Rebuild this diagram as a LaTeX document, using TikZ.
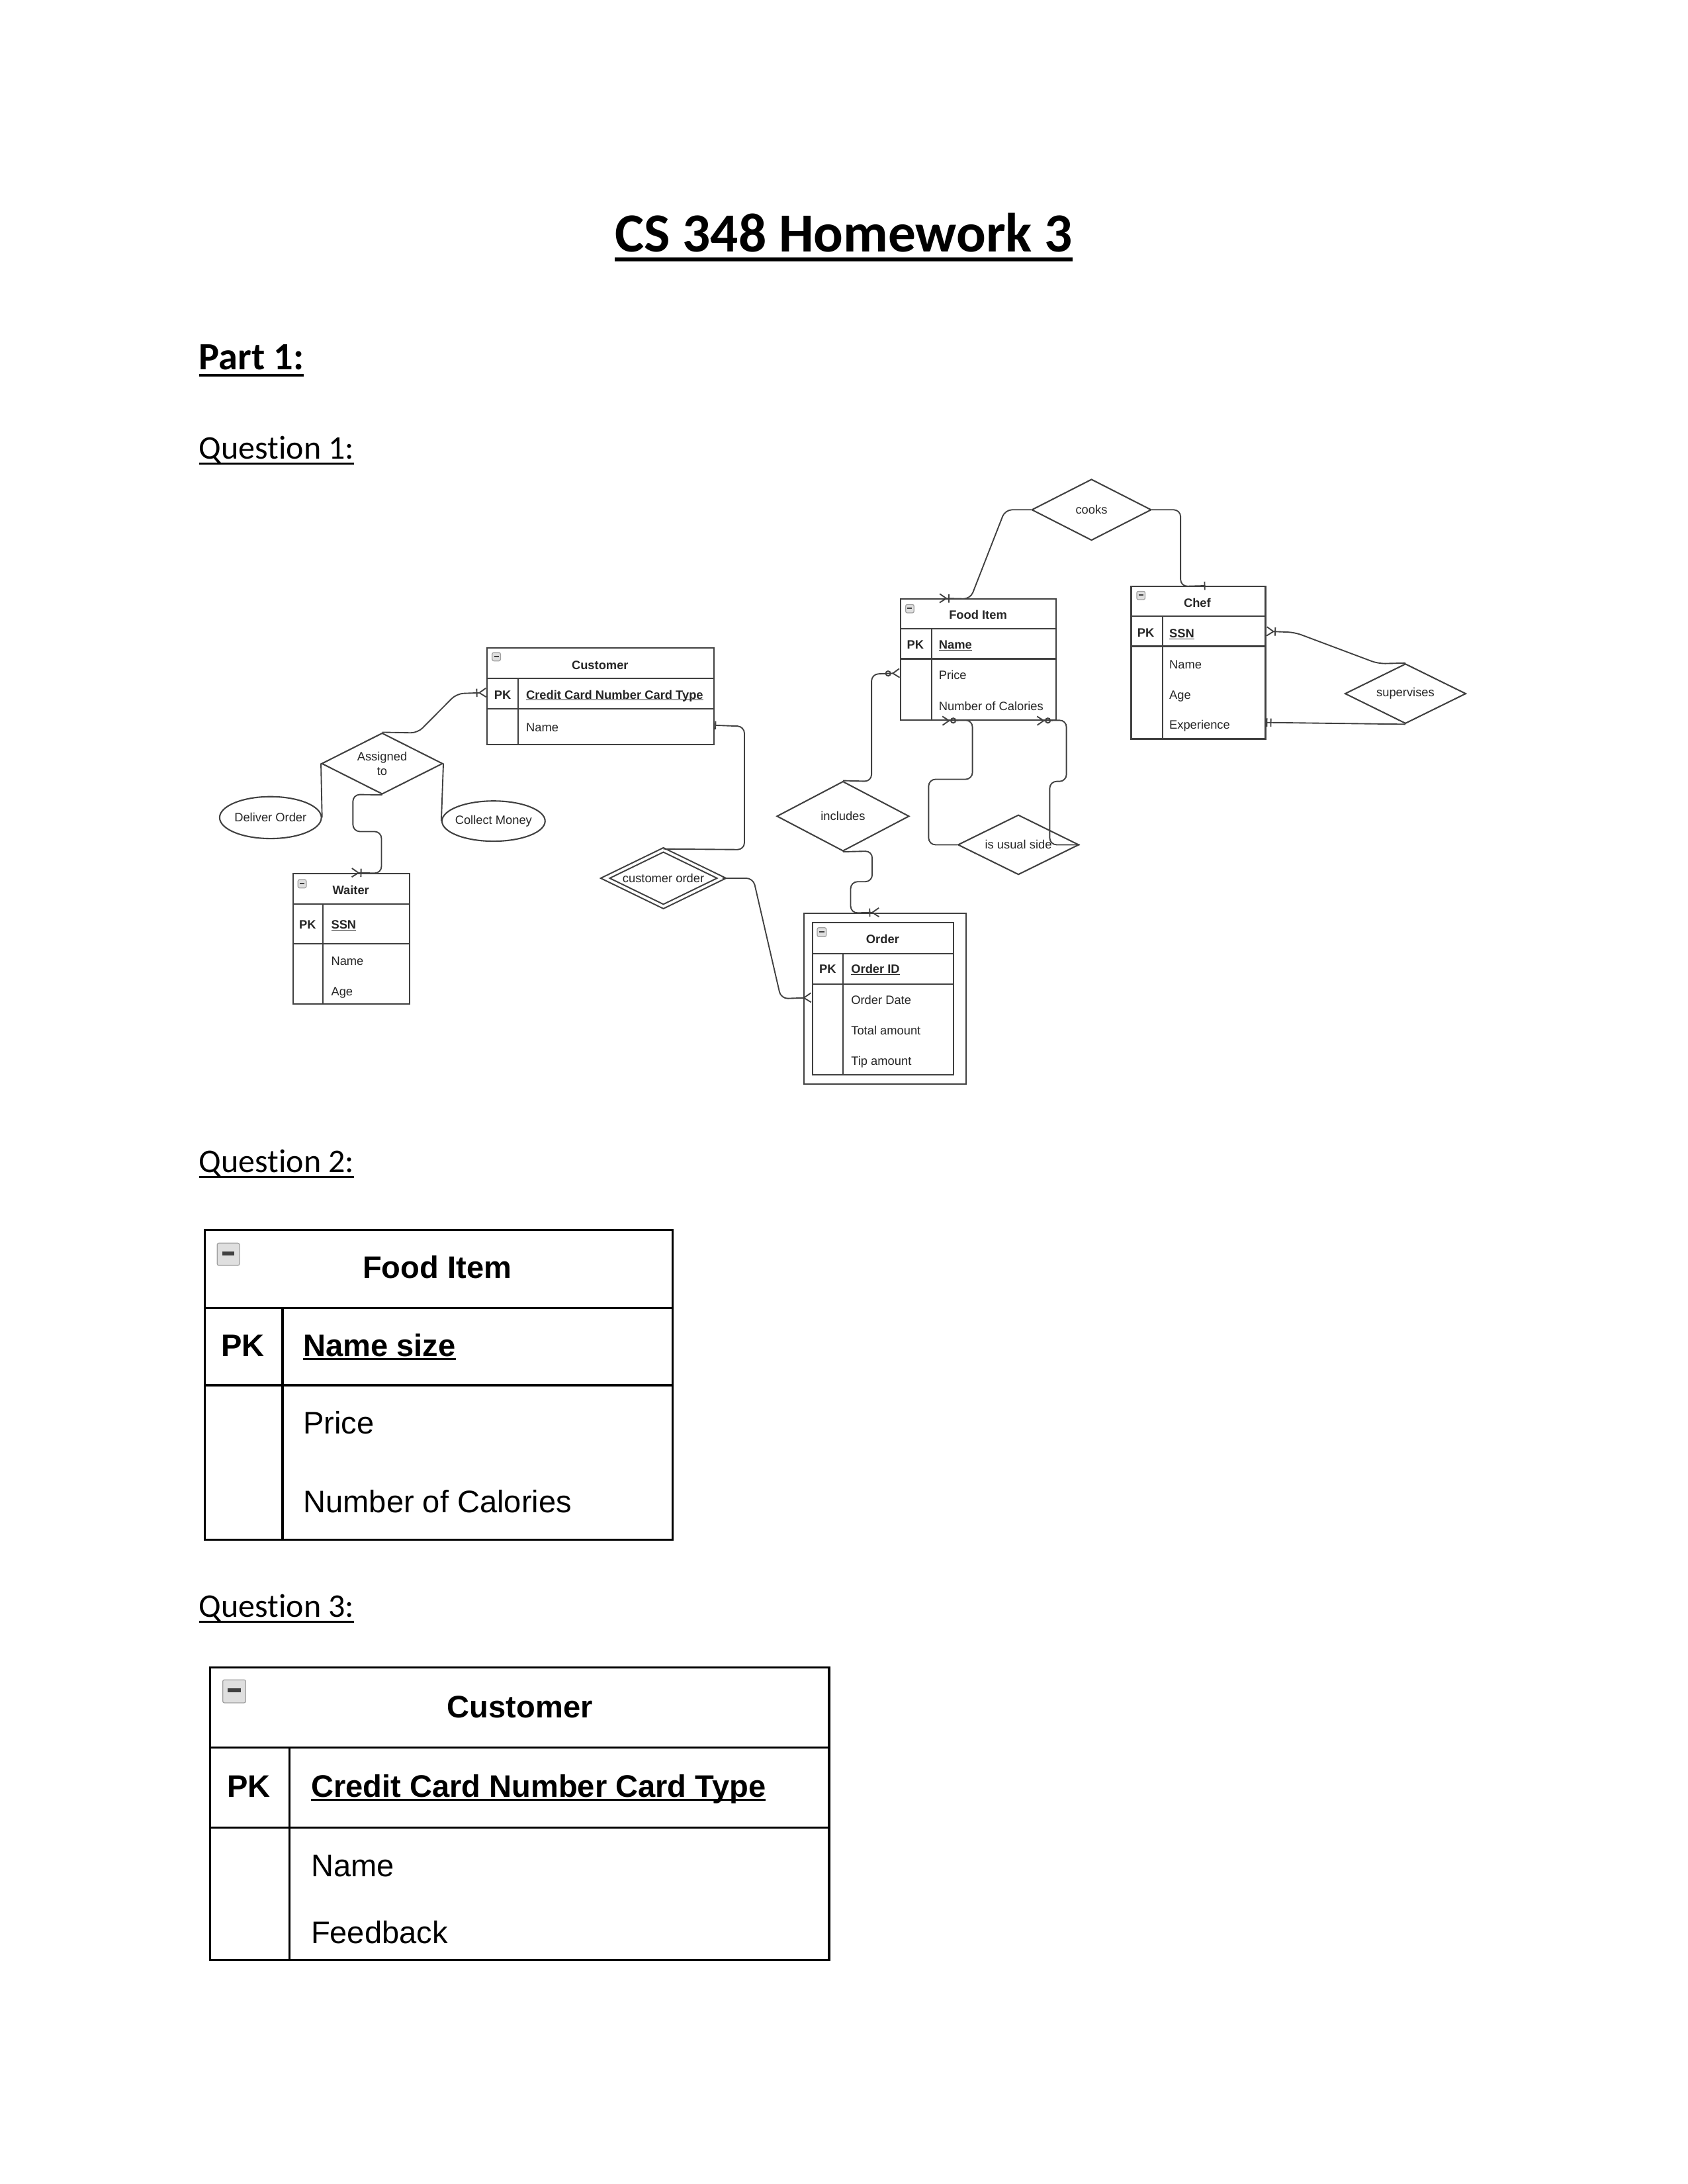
\documentclass[tikz,border=0pt]{standalone}
\usepackage{fontspec}
\setmainfont{Carlito}[Ligatures=CommonOff]
\newfontfamily\arialfont{Liberation Sans}
\usetikzlibrary{arrows.meta, positioning, fit, calc, shapes.geometric}

\newcommand{\headul}[1]{\setbox0\hbox{#1}\rlap{\rule[-0.18em]{\wd0}{0.07em}}\box0}
\newcommand{\pkul}[1]{\setbox0\hbox{#1}\rlap{\rule[-0.11em]{\wd0}{0.055em}}\box0}

\tikzset{
  tiny/.style={font=\arialfont\fontsize{4.4}{5.3}\selectfont, inner sep=0pt, text=black!85, yshift=0.4pt},
  tinyb/.style={font=\arialfont\bfseries\fontsize{4.4}{5.3}\selectfont, inner sep=0pt, text=black!85, yshift=0.4pt},
  big/.style={font=\arialfont\fontsize{11.3}{13.6}\selectfont, inner sep=0pt},
  bigb/.style={font=\arialfont\bfseries\fontsize{11.3}{13.6}\selectfont, inner sep=0pt},
  entity/.style={draw=black!75, line width=0.5pt, inner sep=0pt},
  erline/.style={draw=black!75, line width=0.5pt},
  qtable/.style={draw=black, line width=0.8pt, inner sep=0pt},
  qline/.style={draw=black, line width=0.8pt},
  relation/.style={diamond, aspect=2, draw=black!75, line width=0.5pt, inner sep=0pt, align=center,
    font=\arialfont\fontsize{4.4}{5.3}\selectfont, text=black!85},
  attribute/.style={ellipse, draw=black!75, line width=0.5pt, inner xsep=-2pt, inner ysep=0pt,
    font=\arialfont\fontsize{4.4}{5.3}\selectfont, text=black!85},
  link/.style={draw=black!75, line width=0.45pt, rounded corners=2.5pt},
  icon/.style={draw=gray!75, fill=gray!25, rounded corners=0.6pt, line width=0.3pt},
  onemany/.style={-{Bar[width=3pt,sep=0.3pt] Straight Barb[reversed,length=2.4pt,width=3.2pt]}},
  onemanystart/.style={{Straight Barb[reversed,length=2.4pt,width=3.2pt] Bar[width=3pt]}-},
  zeromany/.style={-{Circle[open,length=2.2pt,sep=0.2pt] Straight Barb[reversed,length=2.4pt,width=3.2pt]}},
  zeromanystart/.style={{Straight Barb[reversed,length=2.4pt,width=3.2pt] Circle[open,length=2.2pt]}-},
  many/.style={-{Straight Barb[reversed,length=2.6pt,width=3.4pt]}},
  one/.style={-{Bar[width=3pt]}},
  onestart/.style={{Bar[width=3pt]}-},
  mandone/.style={-{Bar[width=3pt,sep=1pt] Bar[width=3pt]}}
}

\begin{document}
\begin{tikzpicture}
\begin{scope}[x=0.50495pt,y=-0.5051pt]
  \fill[white] (0,0) rectangle (1212,1568);
  \useasboundingbox (0,0) rectangle (1212,1568);

  \node[anchor=base, inner sep=0pt, font=\bfseries\fontsize{20}{24}\selectfont] (title) at (606,180.6) {\headul{CS 348 Homework 3}};
  \node[anchor=base west, inner sep=0pt, font=\bfseries\fontsize{14}{17}\selectfont] (part) at (142.5,265.4) {\headul{Part 1:}};
  \node[anchor=base west, inner sep=0pt, font=\fontsize{12}{14.4}\selectfont] (qone) at (142.5,329.5) {\headul{Question 1:}};
  \node[anchor=base west, inner sep=0pt, font=\fontsize{12}{14.4}\selectfont] (qtwo) at (142.5,841.5) {\headul{Question 2:}};
  \node[anchor=base west, inner sep=0pt, font=\fontsize{12}{14.4}\selectfont] (qthree) at (142.5,1161) {\headul{Question 3:}};

  % entities
  \node[entity, fit={(350,465)(513,534.5)}] (customer) {};
  \draw[erline] (350,487) -- (513,487) (350,509) -- (513,509) (372,487) -- (372,534.5);
  \node[tinyb, anchor=mid] (custhead) at (431,476.5) {Customer};
  \node[tinyb, anchor=mid] (custpk) at (361,498) {PK};
  \node[tinyb, anchor=mid west] (custkey) at (377.5,498) {\pkul{Credit Card Number Card Type}};
  \node[tiny, anchor=mid west] (custname) at (377.5,521.5) {Name};

  \node[entity, fit={(210.5,627)(294,721)}] (waiter) {};
  \draw[erline] (210.5,649) -- (294,649) (210.5,677.5) -- (294,677.5) (232,649) -- (232,721);
  \node[tinyb, anchor=mid] (waithead) at (252,638) {Waiter};
  \node[tinyb, anchor=mid] (waitpk) at (221,663) {PK};
  \node[tinyb, anchor=mid west] (waitkey) at (237.5,663) {\pkul{SSN}};
  \node[tiny, anchor=mid west] (waitname) at (237.5,689) {Name};
  \node[tiny, anchor=mid west] (waitage) at (237.5,711) {Age};

  \node[entity, fit={(647,430)(758.5,517)}] (food) {};
  \draw[erline] (647,451.5) -- (758.5,451.5) (647,473) -- (758.5,473) (669,451.5) -- (669,517);
  \node[tinyb, anchor=mid] (foodhead) at (702.5,440.5) {Food Item};
  \node[tinyb, anchor=mid] (foodpk) at (657.5,462) {PK};
  \node[tinyb, anchor=mid west] (foodkey) at (674,462) {\pkul{Name}};
  \node[tiny, anchor=mid west] (foodprice) at (674,484) {Price};
  \node[tiny, anchor=mid west] (foodcal) at (674,506) {Number of Calories};

  \node[entity, fit={(812.5,421)(909,530.5)}] (chef) {};
  \draw[erline] (812.5,442.5) -- (909,442.5) (812.5,464) -- (909,464) (835,442.5) -- (835,530.5);
  \node[tinyb, anchor=mid] (chefhead) at (860,432) {Chef};
  \node[tinyb, anchor=mid] (chefpk) at (823,453.5) {PK};
  \node[tinyb, anchor=mid west] (chefkey) at (839.5,454) {\pkul{SSN}};
  \node[tiny, anchor=mid west] (chefname) at (839.5,476) {Name};
  \node[tiny, anchor=mid west] (chefage) at (839.5,498) {Age};
  \node[tiny, anchor=mid west] (chefexp) at (839.5,519.5) {Experience};

  \node[entity, fit={(577.5,655.5)(694,778.5)}] (order) {};
  \node[entity, fit={(583.5,662.5)(685,771.5)}] (orderin) {};
  \draw[erline] (583.5,684.5) -- (685,684.5) (583.5,706.5) -- (685,706.5) (605.5,684.5) -- (605.5,771.5);
  \node[tinyb, anchor=mid] (orderhead) at (634,673.5) {Order};
  \node[tinyb, anchor=mid] (orderpk) at (594.5,695) {PK};
  \node[tinyb, anchor=mid west] (orderkey) at (611,695) {\pkul{Order ID}};
  \node[tiny, anchor=mid west] (orderdate) at (611,717) {Order Date};
  \node[tiny, anchor=mid west] (ordertotal) at (611,739) {Total amount};
  \node[tiny, anchor=mid west] (ordertip) at (611,761) {Tip amount};

  % relations and attributes
  \node[relation, minimum width=43.4pt, minimum height=22.2pt] (cooks) at (784,366) {cooks};
  \node[relation, minimum width=48pt, minimum height=25.3pt] (includes) at (605.5,586) {includes};
  \node[relation, minimum width=43.9pt, minimum height=21.7pt] (usual) at (731.5,606.5) {is usual side};
  \node[relation, minimum width=43.9pt, minimum height=21.7pt] (supervises) at (1009.5,498) {supervises};
  \node[relation, minimum width=43.9pt, minimum height=22.2pt] (assigned) at (274.5,548.2) {Assigned\\to};
  \node[relation, double, double distance=0.9pt, minimum width=42.4pt, minimum height=20.7pt] (custorder) at (476.5,630.5) {customer order};
  \node[attribute, minimum width=36.9pt, minimum height=15.2pt] (deliver) at (194.3,587) {Deliver Order};
  \node[attribute, minimum width=37.4pt, minimum height=14.6pt] (collect) at (354.5,589.5) {Collect Money};

  % connectors
  \draw[link, onemany] (assigned.north) -- (300,526.2) -- (328,498) -- (customer.west |- custpk.mid);
  \draw[link] (assigned.west) -- (deliver.east);
  \draw[link] (assigned.east) -- (collect.west);
  \draw[link, onemany] (assigned.south) -- (253.5,570.4) -- (253.5,597) -- (274,597) -- (274,627) -- (waiter.north);
  \draw[link, onemany] (cooks.west) -- (722,366) -- (697,430) -- ($(food.north west)+(28,0)$);
  \draw[link, one] (cooks.east) -- (848,366) -- (848,421) -- ($(chef.north)+(5,0)$);
  \draw[link, zeromany] (includes.north) -- (626,561) -- (626,484) -- (food.west |- foodprice.mid);
  \draw[link, onemany] (includes.south) -- (626.5,611) -- (626.5,633) -- (611,633) -- (611,655.5) -- ($(order.north)+(-4,0)$);
  \draw[link, zeromanystart] ($(food.south west)+(30,0)$) -- (698.5,517) -- (698.5,559.5) -- (667,559.5) -- (667,606.5) -- (usual.west);
  \draw[link, zeromanystart] ($(food.south west)+(98,0)$) -- (766,517) -- (766,561) -- (754,561) -- (754,606.5) -- (usual.east);
  \draw[link, onemanystart] (chef.east |- chefkey.mid) -- (930,454) -- (990,476.5) -- (supervises.north);
  \draw[link, mandone] (supervises.south) -- (chef.east |- chefexp.mid);
  \draw[link, onestart] (customer.east |- custname.mid) -- (534.7,521.5) -- (534.7,610) -- (custorder.north);
  \draw[link, many] (custorder.east) -- (541,630.5) -- (561,717) -- (orderin.west |- orderdate.mid);

  % question 2 and 3 tables
  \node[qtable, fit={(147,883)(483,1105.5)}] (fooditem) {};
  \draw[qline] (147,939) -- (483,939) (147,994.5) -- (483,994.5) (203,939) -- (203,1105.5);
  \node[bigb, anchor=mid] (fihead) at (314,913) {Food Item};
  \node[bigb, anchor=mid] (fipk) at (174.5,969) {PK};
  \node[bigb, anchor=mid west] (fikey) at (217.5,969) {\pkul{Name size}};
  \node[big, anchor=mid west] (fiprice) at (217.5,1024.5) {Price};
  \node[big, anchor=mid west] (fical) at (217.5,1081) {Number of Calories};

  \node[qtable, fit={(151,1197)(595.5,1407)}] (custtable) {};
  \draw[qline] (151,1254.5) -- (595.5,1254.5) (151,1312) -- (595.5,1312) (208,1254.5) -- (208,1407);
  \node[bigb, anchor=mid] (cuhead) at (373.5,1228.5) {Customer};
  \node[bigb, anchor=mid] (cupk) at (178.7,1285.5) {PK};
  \node[bigb, anchor=mid west] (cukey) at (223,1285.5) {\pkul{Credit Card Number Card Type}};
  \node[big, anchor=mid west] (cuname) at (223,1342.5) {Name};
  \node[big, anchor=mid west] (cufeed) at (223,1390.5) {Feedback};

  \foreach \ix/\iy/\is in {650.5/434/6,816.5/424.5/6,353.5/468.5/6,214/631.5/6,587/666/6.5,156/892.5/16,160/1206/16.5} {
    \pgfmathsetmacro{\iw}{0.09*\is}
    \draw[icon] (\ix,\iy) rectangle ++(\is,\is);
    \draw[black!75, line width=\iw pt] ({\ix+0.22*\is},{\iy+0.46*\is}) -- ({\ix+0.78*\is},{\iy+0.46*\is});
  }
\end{scope}
\end{tikzpicture}
\end{document}
